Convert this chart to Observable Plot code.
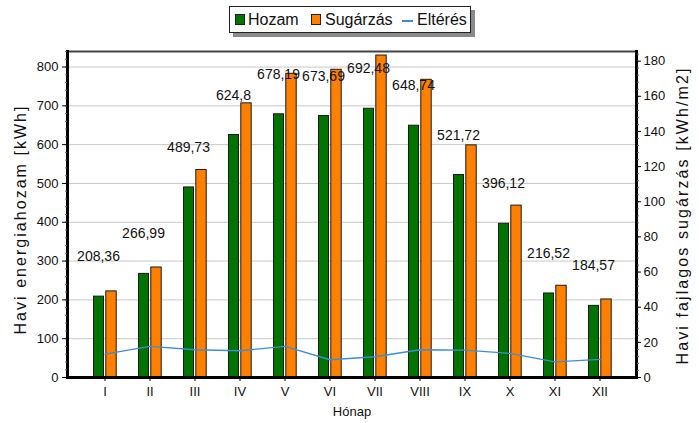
<!DOCTYPE html>
<html><head><meta charset="utf-8">
<script src="https://cdn.jsdelivr.net/npm/d3@7"></script>
<script src="https://cdn.jsdelivr.net/npm/@observablehq/plot@0.6"></script>
<style>
body{margin:0;background:#fff;font-family:"Liberation Sans",Arial,sans-serif;}
#wrap{position:relative;width:699px;height:423px;}
#legend{position:absolute;left:229px;top:6px;width:240px;height:25px;border:1px solid #222;box-shadow:4px 4px 0 #8a8a8a;background:#fff;z-index:2;font-size:16px;color:#111;}
.item{position:absolute;top:0;height:25px;line-height:26px;white-space:nowrap;}
.sw{position:absolute;width:8px;height:9px;border:1px solid #222;top:7px;}
.ln{position:absolute;width:11px;height:2px;top:13px;background:#3b8ed8;}
</style></head>
<body>
<div id="wrap">
  <div id="legend">
    <div class="sw" style="left:5px;background:#007300"></div>
    <div class="item" style="left:18px">Hozam</div>
    <div class="sw" style="left:81px;background:#ff8000"></div>
    <div class="item" style="left:95px">Sugárzás</div>
    <div class="ln" style="left:172px"></div>
    <div class="item" style="left:187px">Eltérés</div>
  </div>
</div>
<script>
const months = ["I","II","III","IV","V","VI","VII","VIII","IX","X","XI","XII"];
const hozam = [208.36, 266.99, 489.73, 624.8, 678.19, 673.69, 692.48, 648.74, 521.72, 396.12, 216.52, 184.57];
const sugarzas = [49.0, 62.6, 118.1, 156.0, 172.8, 175.1, 183.2, 169.4, 132.1, 97.8, 52.2, 44.4];
const elteres = [13.3, 17.7, 15.8, 15.2, 17.7, 10.1, 11.8, 15.8, 15.6, 13.7, 8.9, 10.3];
const leftTicks = [0, 100, 200, 300, 400, 500, 600, 700, 800];
const rightTicks = [0, 20, 40, 60, 80, 100, 120, 140, 160, 180];
const titleL = "Havi energiahozam [kWh]";
const titleR = "Havi fajlagos sugárzás [kWh/m2]";

const leftMax = 840, rightMax = 185.5;
const k = leftMax / rightMax;
const data = months.map((m, i) => ({m, hozam: hozam[i], sug: sugarzas[i], elt: elteres[i]}));

const chart = Plot.plot({
  width: 699, height: 423,
  marginTop: 51, marginBottom: 46, marginLeft: 67, marginRight: 63,
  style: {fontFamily: "'Liberation Sans', Arial, sans-serif", fontSize: "13px", color: "#000", background: "transparent"},
  x: {type: "band", domain: months, paddingInner: 0, paddingOuter: 0.31},
  y: {domain: [0, leftMax]},
  marks: [
    Plot.ruleY(leftTicks.slice(1), {stroke: "#c8c8c8", strokeWidth: 1}),
    Plot.barY(data, {x: "m", y: "hozam", fill: "#007300", stroke: "#1a1a1a", strokeWidth: 1, insetLeft: 11.5, insetRight: 23.5}),
    Plot.barY(data, {x: "m", y: d => d.sug * k, fill: "#ff8000", stroke: "#1a1a1a", strokeWidth: 1, insetLeft: 23.8, insetRight: 10.8}),
    Plot.line(data, {x: "m", y: d => d.elt * k, stroke: "#3b8ed8", strokeWidth: 1.4}),
    Plot.text(data, {x: "m", y: "hozam", text: d => String(d.hozam).replace(".", ","), dx: -6.5, dy: -40, fontSize: 14, fill: "#111"}),
    Plot.ruleY([leftMax], {stroke: "#444", strokeWidth: 2}),
    Plot.ruleY([0], {stroke: "#000", strokeWidth: 3}),
    Plot.frame({anchor: "left", stroke: "#000", strokeWidth: 3}),
    Plot.frame({anchor: "right", stroke: "#000", strokeWidth: 3}),
    Plot.axisY(d3.range(0, 841, 20), {anchor: "left", tickSize: 2, tickFormat: () => "", label: null, stroke: "#666"}),
    Plot.axisY(d3.range(0, 186, 4).map(v => v * k), {anchor: "right", tickSize: 2, tickFormat: () => "", label: null, stroke: "#666"}),
    Plot.axisY(leftTicks, {anchor: "left", tickSize: 5, tickPadding: 4, fontSize: 13, label: null, stroke: "#000", fill: "#111"}),
    Plot.axisY(rightTicks.map(v => v * k), {anchor: "right", tickSize: 4, tickPadding: 3, fontSize: 13, tickFormat: (v, i) => String(rightTicks[i]), label: null, stroke: "#000", fill: "#111"}),
    Plot.axisX(months, {anchor: "bottom", tickSize: 4, tickPadding: 5, fontSize: 13, label: null, stroke: "#000", fill: "#111"}),
    Plot.text([titleL], {frameAnchor: "left", textAnchor: "middle", lineAnchor: "middle", rotate: -90, dx: -47, dy: 6, fontSize: 16, fill: "#111"}),
    Plot.text([titleR], {frameAnchor: "right", textAnchor: "middle", lineAnchor: "middle", rotate: -90, dx: 46, dy: 2, fontSize: 16, fill: "#111"}),
    Plot.text(["Hónap"], {frameAnchor: "bottom", textAnchor: "middle", lineAnchor: "middle", dy: 34, fontSize: 13, fill: "#111"})
  ]
});
d3.select(chart).selectAll("text").each(function() {
  const t = this.textContent;
  if (t === titleL) d3.select(this).attr("textLength", 228).attr("lengthAdjust", "spacing");
  if (t === titleR) d3.select(this).attr("textLength", 296).attr("lengthAdjust", "spacing");
});
document.getElementById("wrap").appendChild(chart);
</script>
</body></html>
